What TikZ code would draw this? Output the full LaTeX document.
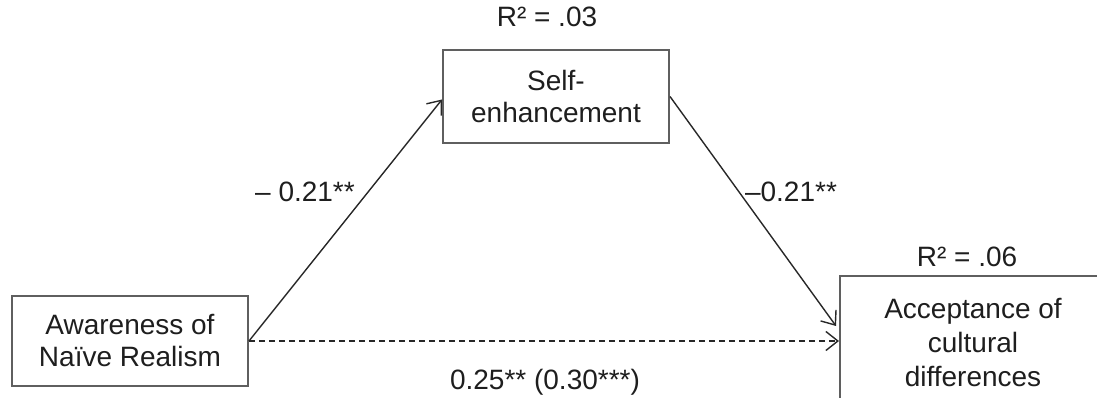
\documentclass[tikz,border=0pt]{standalone}
\usepackage{fontspec}
\setmainfont{Liberation Sans}
\usetikzlibrary{arrows.meta}
\definecolor{boxgray}{RGB}{95,95,95}
\definecolor{linec}{RGB}{40,40,40}
\definecolor{txt}{RGB}{30,30,30}
\begin{document}
\begin{tikzpicture}[x=1pt,y=-1pt,
  lbl/.style={font=\fontsize{28}{32}\selectfont, text=txt, align=center, inner sep=0pt},
  box/.style={draw=boxgray, line width=2pt, inner sep=0pt, lbl},
  arr/.style={draw=linec, line width=1.4pt, -{Straight Barb[length=12pt,width=19pt,line width=1.4pt]}},
  darr/.style={arr, dash pattern=on 6pt off 4pt},
]
\useasboundingbox (0,0) rectangle (1097,398);
\node[box, minimum width=236pt, minimum height=90pt] (nr) at (130,341) {Awareness of\\Naïve Realism};
\node[box, minimum width=226pt, minimum height=93pt] (se) at (556,96.5) {Self-\\enhancement};
\node[box, minimum width=280pt, minimum height=150pt] (acc) at (980,351) {};
\node[lbl, font=\fontsize{28}{34}\selectfont] (acct) at (973,343) {Acceptance of\\cultural\\differences};
\node[lbl] (r1) at (547,17) {R² = .03};
\node[lbl] (r2) at (967,257) {R² = .06};
\coordinate (in1) at ([yshift=25pt,xshift=-3pt]acc.west);
\draw[arr] (nr.east) -- ([yshift=-3pt]se.west);
\draw[arr] (se.east) -- (in1);
\draw[darr] (nr.east) -- (nr.east -| acc.west);
\node[lbl] (l1) at (305,192) {– 0.21**};
\node[lbl] (l2) at (791,192) {–0.21**};
\node[lbl] (l3) at (545,382) {0.25** (0.30***)};
\end{tikzpicture}
\end{document}
